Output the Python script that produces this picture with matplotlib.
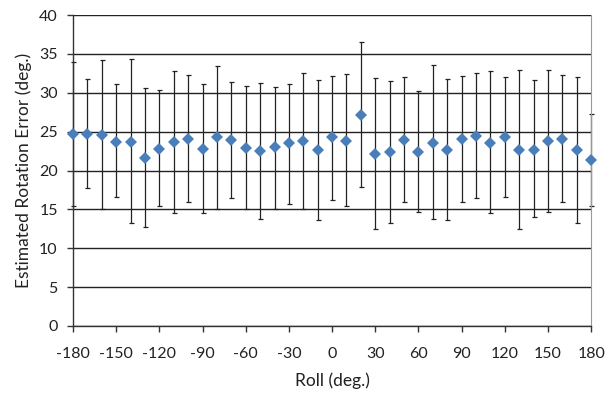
import matplotlib.pyplot as plt
import numpy as np

plt.rcParams['font.family'] = ['Lato', 'DejaVu Sans']
plt.rcParams['axes.unicode_minus'] = False

roll = list(range(-180, 181, 10))
err_mean = [24.7, 24.7, 24.6, 23.7, 23.7, 21.6, 22.8, 23.7, 24.1, 22.8,
            24.3, 23.9, 22.9, 22.5, 23.0, 23.5, 23.8, 22.6, 24.3, 23.8,
            27.2, 22.1, 22.4, 23.9, 22.4, 23.6, 22.6, 24.0, 24.5, 23.5,
            24.3, 22.7, 22.7, 23.8, 24.1, 22.6, 21.3]
err_top = [34.0, 31.8, 34.2, 31.1, 34.4, 30.6, 30.4, 32.8, 32.3, 31.1,
           33.5, 31.4, 30.9, 31.3, 30.8, 31.2, 32.5, 31.6, 32.2, 32.4,
           36.5, 31.9, 31.5, 32.0, 30.3, 33.6, 31.8, 32.2, 32.5, 32.8,
           32.1, 33.0, 31.7, 32.9, 32.3, 32.0, 27.3]
err_bot = [15.5, 17.8, 15.1, 16.6, 13.2, 12.7, 15.4, 14.6, 15.9, 14.6,
           15.1, 16.5, 15.1, 13.8, 15.1, 15.7, 15.1, 13.7, 16.2, 15.4,
           17.9, 12.5, 13.3, 16.0, 14.7, 13.8, 13.6, 16.0, 16.5, 14.5,
           16.6, 12.5, 14.0, 14.7, 15.9, 13.3, 15.5]

x = np.array(roll)
y = np.array(err_mean)
yerr = [y - np.array(err_bot), np.array(err_top) - y]

fig = plt.figure(figsize=(6.11, 3.94), dpi=100)
ax = fig.add_axes([0.1195, 0.1726, 0.848, 0.789])

eb = ax.errorbar(x, y, yerr=yerr, fmt='none', ecolor='#222222', elinewidth=0.9,
                 capsize=1.8, capthick=0.9, zorder=2)
for art in eb.lines[1] + eb.lines[2]:
    art.set_clip_on(False)
ax.plot(x, y, 'D', color='#4a7ebb', markersize=6.5, markeredgewidth=0,
        zorder=3, clip_on=False)

ax.set_xlim(-180, 180)
ax.set_ylim(0, 40)
ax.set_xticks(range(-180, 181, 30))
ax.set_yticks(range(0, 41, 5))
ax.yaxis.grid(True, color='#222222', linewidth=1)
ax.set_axisbelow(True)

for s in ['left', 'bottom']:
    ax.spines[s].set_color('#333333')
    ax.spines[s].set_linewidth(1)
ax.spines['top'].set_visible(False)
ax.spines['right'].set_color('#999999')
ax.tick_params(direction='out', length=4, width=1, color='#333333',
               labelsize=11.5, labelcolor='#222222')
ax.tick_params(axis='x', pad=11)
ax.tick_params(axis='y', pad=7)

ax.set_xlabel('Roll (deg.)', fontsize=12.5, color='#222222', labelpad=8)
ax.set_ylabel('Estimated Rotation Error (deg.)', fontsize=12.5, color='#222222', labelpad=5)

fig.savefig('out.png', dpi=100)
